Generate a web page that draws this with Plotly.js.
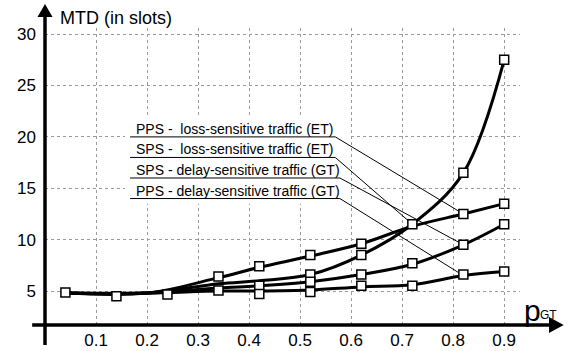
<!DOCTYPE html>
<html><head><meta charset="utf-8">
<script src="https://cdn.plot.ly/plotly-3.0.1.min.js"></script>
<style>html,body{margin:0;padding:0;background:#fff;}#chart{width:574px;height:351px;}</style>
</head><body><div id="chart"></div>
<script>
// fitted curves
const xs       = [0.04, 0.2, 0.34, 0.42, 0.52, 0.62, 0.72, 0.82, 0.9];
const ppsLoss  = [4.8, 4.8, 6.3, 7.3, 8.4, 9.6, 11.3, 12.5, 13.5];
const spsLoss  = [4.8, 4.8, 5.7, 6.0, 6.6, 8.5, 11.5, 16.5, 27.5];
const spsDelay = [4.8, 4.8, 5.3, 5.5, 5.9, 6.6, 7.6, 9.5, 11.5];
const ppsDelay = [4.8, 4.8, 5.0, 5.0, 5.1, 5.4, 5.6, 6.5, 6.9];
// measured points (square markers)
const markX = [0.04,0.14,0.24,0.34,0.34,0.42,0.42,0.42,0.52,0.52,0.52,0.52,0.62,0.62,0.62,0.62,0.72,0.72,0.72,0.82,0.82,0.82,0.82,0.9,0.9,0.9,0.9];
const markY = [4.85,4.5,4.65,6.4,5.05,7.4,5.5,4.7,8.5,6.6,5.9,4.9,9.6,8.5,6.6,5.5,11.5,7.7,5.5,16.5,12.5,9.5,6.6,27.5,13.5,11.5,6.9];
const labels = ["PPS -\u00a0 loss-sensitive traffic (ET)", "SPS -\u00a0 loss-sensitive traffic (ET)", "SPS - delay-sensitive traffic (GT)", "PPS - delay-sensitive traffic (GT)"];
const xTicks = [0.1,0.2,0.3,0.4,0.5,0.6,0.7,0.8,0.9];
const yTicks = [5,10,15,20,25,30];

const series = [ppsLoss, spsLoss, spsDelay, ppsDelay];
const targetIdx = [7, 6, 7, 7];
const labelY = [20, 18, 16, 14];
const labelEnd = [0.569, 0.569, 0.578, 0.578];

const traces = [];
series.forEach(s => traces.push({x: xs, y: s, mode: 'lines', type: 'scatter',
  line: {color: '#000', width: 3, shape: 'spline', smoothing: 1}, hoverinfo: 'skip'}));
series.forEach((s, i) => traces.push({
  x: [0.1667, labelEnd[i], xs[targetIdx[i]]], y: [labelY[i], labelY[i], s[targetIdx[i]]],
  mode: 'lines', type: 'scatter', line: {color: '#000', width: 1}, hoverinfo: 'skip'}));
traces.push({x: markX, y: markY, mode: 'markers', type: 'scatter',
  marker: {symbol: 'square', size: 9, color: '#fff', line: {color: '#000', width: 1.5}}, hoverinfo: 'skip'});

const annotations = labels.map((t, i) => ({x: 0.176, y: labelY[i], xref: 'x', yref: 'y', text: t,
  showarrow: false, xanchor: 'left', yanchor: 'bottom', yshift: -1, borderpad: 0,
  font: {family: 'Liberation Sans, Arial, sans-serif', size: 14, color: '#000'}}));
annotations.push({xref: 'paper', yref: 'paper', x: 0.027, y: 1.034, xanchor: 'left', yanchor: 'middle',
  text: 'MTD (in slots)', showarrow: false, font: {family: 'Liberation Sans, Arial, sans-serif', size: 18, color: '#000'}});
annotations.push({xref: 'paper', yref: 'paper', x: 1.004, y: 0.05, xanchor: 'left', yanchor: 'middle',
  text: 'p', showarrow: false, font: {family: 'Liberation Sans, Arial, sans-serif', size: 30, color: '#000'}});
annotations.push({xref: 'paper', yref: 'paper', x: 1.038, y: 0.034, xanchor: 'left', yanchor: 'middle',
  text: 'GT', showarrow: false, font: {family: 'Liberation Sans, Arial, sans-serif', size: 12, color: '#000'}});

const shapes = [
  {type: 'rect', xref: 'x', yref: 'y', x0: 0.157, x1: 0.598, y0: 13.5, y1: 21.9, fillcolor: '#fff', line: {width: 0}, layer: 'between'},
  {type: 'line', xref: 'paper', yref: 'paper', x0: 0, x1: 0, y0: -0.067, y1: 1.04, line: {color: '#000', width: 3.5}},
  {type: 'line', xref: 'paper', yref: 'paper', x0: -0.027, x1: 1.065, y0: 0, y1: 0, line: {color: '#000', width: 3.5}},
  {type: 'path', xref: 'paper', yref: 'paper', path: 'M -0.0158 1.037 L 0.0158 1.037 L 0 1.081 Z', fillcolor: '#000', line: {width: 0}},
  {type: 'path', xref: 'paper', yref: 'paper', path: 'M 1.061 -0.027 L 1.061 0.027 L 1.092 0 Z', fillcolor: '#000', line: {width: 0}}
];

const layout = {
  width: 574, height: 351, margin: {l: 45, r: 54, t: 28, b: 26},
  paper_bgcolor: '#fff', plot_bgcolor: '#fff', showlegend: false,
  font: {family: 'Liberation Sans, Arial, sans-serif', size: 17, color: '#000'},
  xaxis: {range: [0, 0.931], tickvals: xTicks, ticktext: xTicks.map(v => v.toFixed(1)), showgrid: true,
    gridcolor: '#9a9a9a', griddash: 'dot', gridwidth: 1, zeroline: false, showline: false, ticks: '', ticklabelstandoff: 3},
  yaxis: {range: [1.69, 30.6], tickvals: yTicks, showgrid: true, gridcolor: '#9a9a9a', griddash: 'dot', gridwidth: 1,
    zeroline: false, showline: false, ticks: '', ticklabelstandoff: 8},
  annotations: annotations, shapes: shapes
};
Plotly.newPlot('chart', traces, layout, {staticPlot: true});
</script></body></html>
